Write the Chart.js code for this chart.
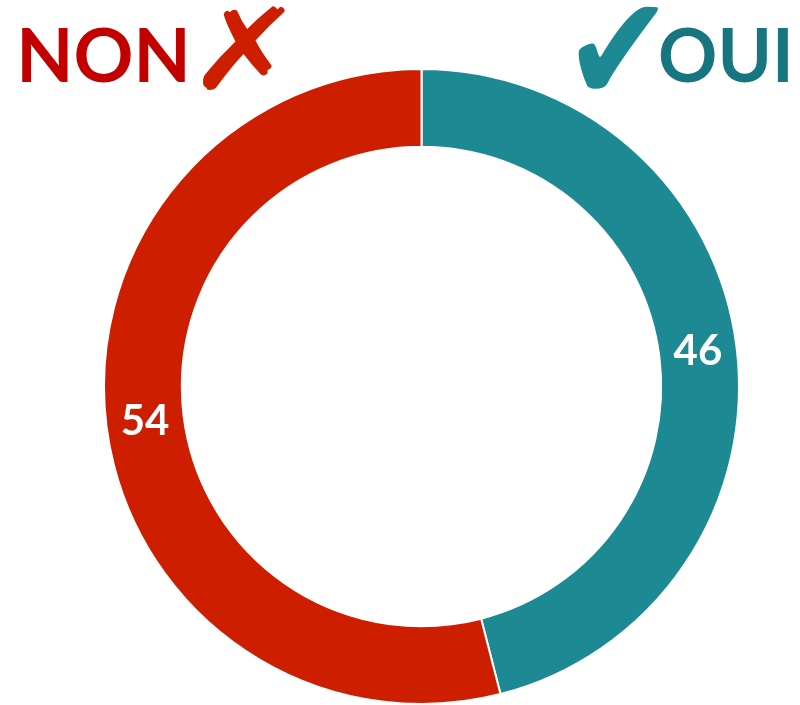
<!DOCTYPE html>
<html lang="fr">
<head>
  <meta charset="UTF-8" />
  <title>Oui / Non</title>
  <style>
    html, body { margin: 0; padding: 0; background: #fff; }
    #wrap { width: 800px; height: 705px; position: relative; }
  </style>
</head>
<body>
  <div id="wrap"><canvas id="pollChart" width="800" height="705"></canvas></div>

  <script src="https://cdn.jsdelivr.net/npm/chart.js"></script>
  <script>
    const answers = ['OUI', 'NON'];
    const percents = [46, 54];
    const sliceColors = ['#1d8a93', '#cd1f00'];

    // draw a string so its ink fills the given box
    function fitText(ctx, str, font, color, x, y, w, h) {
      ctx.save();
      ctx.font = font;
      const m = ctx.measureText(str);
      const iw = m.actualBoundingBoxLeft + m.actualBoundingBoxRight;
      const ih = m.actualBoundingBoxAscent + m.actualBoundingBoxDescent;
      ctx.translate(x, y);
      ctx.scale(w / iw, h / ih);
      ctx.fillStyle = color;
      ctx.textBaseline = 'alphabetic';
      ctx.textAlign = 'left';
      ctx.fillText(str, m.actualBoundingBoxLeft, m.actualBoundingBoxAscent);
      ctx.restore();
    }

    const decor = {
      id: 'decor',
      afterDraw(chart) {
        const ctx = chart.ctx;
        // headings
        fitText(ctx, 'NON', 'bold 78px Lato', '#c20000', 22, 27, 163, 56);
        fitText(ctx, '\u2717', 'bold 90px "DejaVu Sans"', '#cd1f00', 202, 6, 84, 84);
        fitText(ctx, '\u2714', 'bold 90px "DejaVu Sans"', '#1d8a93', 578, 6, 80, 84);
        fitText(ctx, 'OUI', 'bold 78px Lato', '#16757e', 660, 27, 128, 56);

        // value labels in the middle of each arc
        const meta = chart.getDatasetMeta(0);
        ctx.save();
        ctx.font = 'bold 42px Lato';
        ctx.fillStyle = '#ffffff';
        ctx.textAlign = 'center';
        ctx.textBaseline = 'middle';
        meta.data.forEach((arc, i) => {
          const p = arc.tooltipPosition();
          ctx.fillText(String(percents[i]), p.x, p.y);
        });
        ctx.restore();
      }
    };

    new Chart(document.getElementById('pollChart'), {
      type: 'doughnut',
      data: {
        labels: answers,
        datasets: [{
          data: percents,
          backgroundColor: sliceColors,
          borderColor: '#ffffff',
          borderWidth: 2
        }]
      },
      options: {
        responsive: false,
        animation: false,
        cutout: '75.5%',
        layout: { padding: { left: 102, right: 59, top: 68, bottom: 0 } },
        plugins: {
          legend: { display: false },
          tooltip: { enabled: false }
        }
      },
      plugins: [decor]
    });
  </script>
</body>
</html>
